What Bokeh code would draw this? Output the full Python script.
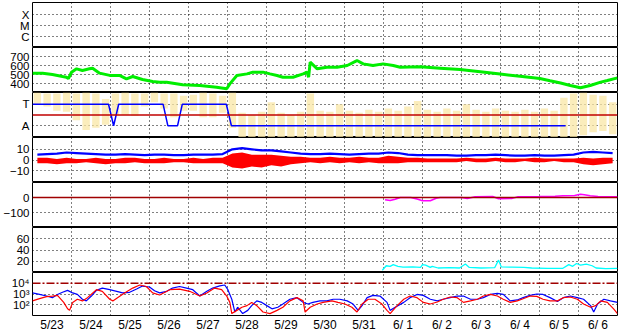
from bokeh.plotting import figure
from bokeh.layouts import column
from bokeh.models import Range1d, FixedTicker, Span
from bokeh.embed import file_html
from bokeh.resources import INLINE

# ---------------- data (time in days since 5/23 00:00) ----------------
DAY_LABELS = ["5/23", "5/24", "5/25", "5/26", "5/27", "5/28", "5/29", "5/30", "5/31",
              "6/ 1", "6/ 2", "6/ 3", "6/ 4", "6/ 5", "6/ 6"]
NOON = [0.5, 1.5, 2.5, 3.5, 4.5, 5.5, 6.5, 7.5, 8.5, 9.5, 10.5, 11.5, 12.5, 13.5, 14.5]
MIDNIGHTS = [1, 2, 3, 4, 5, 6, 7, 8, 9, 10, 11, 12, 13, 14]

# solar wind speed (km/s)
SPEED_T = [0.00, 0.26, 0.51, 0.77, 0.87, 0.92, 1.00, 1.13, 1.28, 1.46, 1.54, 1.72, 1.98, 2.23,
           2.41, 2.57, 2.82, 3.08, 3.26, 3.44, 3.85, 4.29, 4.72, 4.98, 5.06, 5.24, 5.50, 5.65,
           5.91, 6.09, 6.27, 6.42, 6.68, 6.94, 7.04, 7.08, 7.12, 7.30, 7.55, 7.81, 8.07, 8.32,
           8.48, 8.73, 8.99, 9.25, 9.43, 9.94, 10.45, 10.96, 11.48, 11.99, 12.50, 13.01, 13.27,
           13.54, 13.79, 14.05, 14.30, 14.57, 14.74, 15.00]
SPEED_V = [515, 515, 500, 478, 470, 455, 525, 563, 545, 563, 570, 515, 490, 490,
           452, 478, 444, 422, 415, 415, 385, 378, 359, 341, 396, 489, 507, 526,
           526, 507, 489, 470, 470, 507, 526, 470, 637, 563, 581, 581, 600, 655,
           618, 600, 618, 600, 581, 585, 570, 555, 530, 505, 480, 455, 430,
           405, 378, 352, 378, 415, 433, 463]

# sector polarity (T = +1, A = -1)
SECTOR_T = [0.00, 1.95, 2.08, 2.21, 3.35, 3.47, 3.72, 3.84, 4.97, 5.10, 13.67]
SECTOR_V = [1, 1, -1, 1, 1, -1, -1, 1, 1, -1, -1]

# 6-hour bins
BIN_T = [0.125 + 0.25 * i for i in range(60)]
# field angle envelope (panel units, T=+1 / A=-1)
PHI_LO = [1.0, 0.8, 0.4, 0.3, -0.5, -1.4, -1.2, -0.9, 0.0, 0.0, -0.1, 0.8, 1.2, 0.6, -0.2,
          0.4, 0.4, -0.2, -0.2, 0.2, -1.2] + [-2.1] * 35 + [-1.9, -1.6, -1.5, -1.8]
PHI_HI = [2.1, 2.0, 2.0, 2.1, 2.0, 2.1, 2.0, 1.5, 2.0, 2.1, 2.0, 2.0, 2.1, 2.0, 2.0, 1.8,
          1.9, 2.1, 2.0, 1.8, 2.1,
          0.2, 0.0, 0.3, 1.2, 0.2, 0.0, 0.3, 2.0, 0.4, 0.3, 1.0, 0.4, 0.2, 0.5, 0.3, 0.6,
          0.4, 0.8, 1.3, 0.5, 0.3, 0.6, 0.4, 1.0, 0.5, 0.3, 0.6, 0.4, 0.3, 0.5, 0.3, 0.6,
          0.4, 1.6, 2.0, 2.1, 1.9, 1.8, 1.2]

# Bz envelope and Bt (nT)
BZ_LO = [-3, -3, -4, -3, -3, -2, -3, -4, -3, -3, -2, -3, -3, -3, -2, -2, -3, -3, -3, -3,
         -7, -8, -6, -7, -5, -6, -4,
         -3, -2, -3, -2, -3, -2, -3, -2, -3,
         -3, -3, -2, -2, -2, -2,
         -2, -2, -1, -2, -2, -1, -2, -2, -1, -2, -2, -1, -2, -2,
         -4, -5, -4, -3]
BZ_HI = [2, 2, 1, 2, 1, 1, 2, 1, 1, 2, 2, 1, 1, 2, 1, 1, 2, 1, 2, 2,
         6, 7, 5, 5, 5, 4, 3,
         3, 2, 2, 3, 2, 2, 3, 2, 2,
         4, 3, 2, 2, 1.5, 1.5,
         1.5, 1.5, 2, 1.5, 1.5, 2, 1.5, 1.5, 1.5, 2, 1.5, 1.5, 1.5, 1.5,
         2, 1.5, 2, 2]
BT = [5, 5.5, 6, 7, 6.5, 6, 5.5, 5, 5, 5.5, 5, 4.5, 5, 5, 4.5, 4.5, 5, 5, 5, 5.5,
      10, 11, 10, 9, 9, 8, 7,
      6, 5.5, 5.5, 6, 5.5, 5, 5.5, 6, 6,
      7, 6.5, 5, 4.5, 4.5, 4.5,
      4.5, 4, 4, 4.5, 4.5, 5, 4.5, 4, 4, 4.5, 4, 4, 4.5, 5,
      7, 7.5, 7, 6.5]

# magenta series (panel 5)
MAG_T = [9.04, 9.17, 9.30, 9.43, 9.70, 9.86, 10.0, 10.2, 10.35, 10.45, 11.0, 11.15, 11.35,
         11.8, 11.95, 12.3, 12.45, 13.0, 13.4, 13.6, 13.9, 14.05, 14.15, 14.3, 14.5, 15.0]
MAG_V = [-15, -20, -12, 0, 0, -10, -22, -22, -5, 0, 0, -7, 5,
         7, -8, -6, 5, 6, 8, 12, 14, 22, 18, 11, 6, 5]

# cyan series (panel 6)
CYAN_T = [8.97, 9.07, 9.17, 9.25, 9.37, 9.50, 9.75, 9.95, 10.00, 10.08, 10.20, 10.25, 10.40,
          10.7, 10.95, 11.10, 11.20, 11.5, 11.85, 11.95, 12.02, 12.3, 12.6, 12.8, 13.2, 13.6,
          13.75, 13.85, 13.95, 14.05, 14.2, 14.35, 14.45, 14.7, 15.0]
CYAN_V = [4, 12, 11, 14, 11, 9.5, 10, 9, 14, 13, 9, 11, 8,
          8.5, 8, 15, 9, 8, 8.5, 22, 10, 9.5, 9, 8, 7.5, 7.5,
          14, 11, 16, 13, 15, 12, 8, 7, 7.5]

# log panel, blue and red
LOGB_T = [0.00, 0.18, 0.36, 0.51, 0.64, 0.77, 0.90, 1.03, 1.15, 1.28, 1.38, 1.51, 1.64, 1.79,
          1.98, 2.16, 2.31, 2.49, 2.67, 2.82, 3.00, 3.13, 3.26, 3.44, 3.59, 3.77, 3.95, 4.11,
          4.29, 4.47, 4.62, 4.80, 4.93, 5.01, 5.11, 5.19, 5.26, 5.39, 5.52, 5.62, 5.75, 5.88,
          6.01, 6.14, 6.29, 6.42, 6.60, 6.78, 6.94, 7.06, 7.19, 7.37, 7.55, 7.71, 7.88, 8.07,
          8.22, 8.35, 8.45, 8.58, 8.73, 8.91, 9.09, 9.17, 9.30, 9.52, 9.68, 9.86, 10.02, 10.20,
          10.38, 10.53, 10.71, 10.89, 11.05, 11.23, 11.41, 11.56, 11.74, 11.92, 12.07, 12.25,
          12.43, 12.58, 12.76, 12.93, 13.09, 13.27, 13.46, 13.61, 13.79, 13.97, 14.13, 14.31,
          14.39, 14.49, 14.65, 14.82, 15.00]
LOGB_V = [1259, 912, 646, 457, 912, 1445, 2188, 1259, 912, 324, 229, 646, 2188, 3548,
          2512, 1778, 1259, 1445, 2884, 5500, 4500, 2000, 1259, 1778, 3548, 5012, 3548, 2512,
          646, 1778, 3548, 5754, 6918, 2512, 324, 21, 59, 15, 30, 83, 229, 166,
          83, 42, 59, 117, 324, 457, 166, 117, 166, 229, 229, 324, 324, 229,
          117, 30, 83, 457, 741, 646, 166, 30, 59, 166, 457, 912, 741, 324,
          229, 324, 457, 646, 646, 324, 324, 457, 912, 1122, 912, 229,
          280, 457, 741, 1000, 912, 457, 200, 457, 646, 457, 324, 83,
          21, 117, 324, 229, 166]
LOGR_T = [0.00, 0.18, 0.36, 0.51, 0.64, 0.80, 0.90, 0.95, 1.03, 1.15, 1.28, 1.41, 1.64, 1.79,
          1.98, 2.06, 2.18, 2.36, 2.57, 2.75, 2.92, 3.08, 3.26, 3.52, 3.77, 4.03, 4.29, 4.47,
          4.67, 4.85, 4.98, 5.06, 5.11, 5.24, 5.37, 5.50, 5.62, 5.75, 5.91, 6.09, 6.27, 6.42,
          6.60, 6.78, 6.94, 6.99, 7.12, 7.30, 7.45, 7.68, 7.83, 8.01, 8.19, 8.32, 8.45, 8.61,
          8.78, 8.96, 9.09, 9.17, 9.35, 9.52, 9.68, 9.86, 10.02, 10.20, 10.38, 10.53, 10.71,
          10.89, 11.05, 11.23, 11.41, 11.56, 11.74, 11.92, 12.07, 12.25, 12.43, 12.58, 12.76,
          12.93, 13.09, 13.27, 13.46, 13.61, 13.79, 13.97, 14.13, 14.31, 14.44, 14.57, 14.74,
          14.90, 15.00]
LOGR_V = [229, 372, 562, 646, 741, 166, 42, 30, 166, 324, 229, 457, 2512, 1778,
          324, 229, 457, 1259, 3548, 6918, 5012, 1259, 800, 2512, 2884, 1778, 646, 1259,
          3548, 2512, 646, 166, 15, 30, 59, 83, 166, 83, 21, 15, 30, 59,
          229, 457, 229, 21, 59, 117, 166, 229, 166, 117, 59, 21, 117, 324,
          324, 117, 30, 15, 83, 324, 646, 457, 166, 117, 180, 324, 525,
          457, 166, 229, 324, 646, 912, 646, 324, 166, 229, 360, 646,
          600, 324, 229, 229, 457, 525, 324, 117, 59, 83, 229, 166,
          42, 15]

# ---------------- styling helpers ----------------
FONT = "Liberation Sans"
xr = Range1d(0, 15)


def panel(yr, height, ticks, labels=None, grid_ticks=None, top=0, bottom=0,
          ytype="linear", xaxis=False):
    p = figure(width=628, height=height, x_range=xr, y_range=yr, y_axis_type=ytype,
               x_axis_location="below" if xaxis else None,
               toolbar_location=None, output_backend="svg",
               min_border_left=32, min_border_right=11,
               min_border_top=top, min_border_bottom=bottom)
    p.background_fill_color = "white"
    p.border_fill_color = "white"
    p.outline_line_color = "black"
    p.outline_line_width = 1
    p.outline_line_alpha = 1
    ya = p.yaxis[0]
    ya.ticker = FixedTicker(ticks=ticks)
    if labels:
        ya.major_label_overrides = labels
    ya.axis_line_color = None
    ya.major_tick_line_color = None
    ya.minor_tick_line_color = None
    ya.major_tick_out = 0
    ya.major_tick_in = 0
    ya.minor_tick_out = 0
    ya.minor_tick_in = 0
    ya.major_label_standoff = 3
    ya.major_label_text_font = FONT
    ya.major_label_text_font_size = "11.5px"
    ya.major_label_text_color = "black"
    p.xgrid.ticker = FixedTicker(ticks=MIDNIGHTS)
    p.ygrid.ticker = FixedTicker(ticks=grid_ticks if grid_ticks is not None else ticks)
    for g in p.grid:
        g.grid_line_color = "black"
        g.grid_line_dash = "1 3"
        g.grid_line_width = 1
        g.grid_line_alpha = 1
    if xaxis:
        xa = p.xaxis[0]
        xa.ticker = FixedTicker(ticks=NOON)
        xa.major_label_overrides = {t: l for t, l in zip(NOON, DAY_LABELS)}
        xa.axis_line_color = None
        xa.major_tick_line_color = None
        xa.minor_tick_line_color = None
        xa.major_tick_out = 0
        xa.major_tick_in = 0
        xa.minor_tick_out = 0
        xa.minor_tick_in = 0
        xa.major_label_standoff = 2
        xa.major_label_text_font = FONT
        xa.major_label_text_font_size = "12px"
        xa.major_label_text_color = "black"
    return p


# panel 1: flare classes
p1 = panel(Range1d(0, 4.1), 47, [1, 2, 3], {1: "C", 2: "M", 3: "X"}, top=2)

# panel 2: speed
p2 = panel(Range1d(300, 800), 45, [400, 500, 600, 700])
p2.line(SPEED_T, SPEED_V, line_color="#00EE00", line_width=3)

# panel 3: toward / away
p3 = panel(Range1d(-2.1, 2.1), 45, [-1, 1], {1: "T", -1: "A"})
p3.vbar(x=BIN_T, bottom=PHI_LO, top=PHI_HI, width=0.19, fill_color="#F9E7A6",
        line_color=None, fill_alpha=0.75)
p3.add_layout(Span(location=0, dimension="width", line_color="#C00000", line_width=1.5))
p3.line(SECTOR_T, SECTOR_V, line_color="#0000FF", line_width=1.5)

# panel 4: Bz / Bt
p4 = panel(Range1d(-21, 21), 45, [-10, 0, 10])
p4.varea(x=BIN_T, y1=BZ_LO, y2=BZ_HI, fill_color="#FF0000")
p4.line(BIN_T, BT, line_color="#0000FF", line_width=2.2)

# panel 5
p5 = panel(Range1d(-200, 100), 45, [-100, 0], grid_ticks=[-100])
p5.add_layout(Span(location=0, dimension="width", line_color="#A00000", line_width=1.5))
p5.line(MAG_T, MAG_V, line_color="#FF00FF", line_width=1.5)

# panel 6
p6 = panel(Range1d(0, 80), 45, [20, 40, 60])
p6.line(CYAN_T, CYAN_V, line_color="#00FFFF", line_width=1.3)

# panel 7: log
p7 = panel(Range1d(10, 1e5), 62, [100, 1000, 10000],
           {100: "10²", 1000: "10³", 10000: "10⁴"}, grid_ticks=[100, 1000],
           bottom=17, ytype="log", xaxis=True)
p7.add_layout(Span(location=10000, dimension="width", line_color="#A00000",
                   line_width=1.5, line_dash="8 2 2 2"))
p7.line(LOGB_T, LOGB_V, line_color="#0000FF", line_width=1.2)
p7.line(LOGR_T, LOGR_V, line_color="#FF0000", line_width=1.2)

layout = column(p1, p2, p3, p4, p5, p6, p7, spacing=0)

open("out.html", "w").write(file_html(layout, INLINE))
